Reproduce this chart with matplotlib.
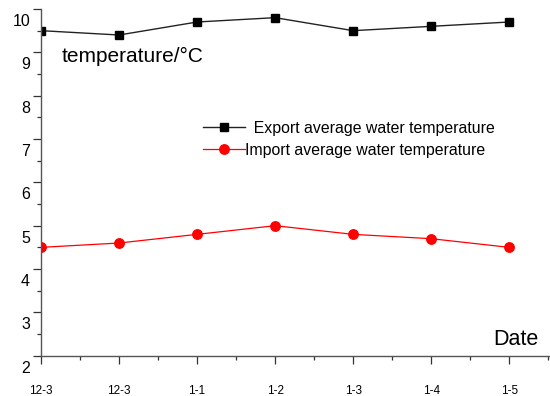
import matplotlib
matplotlib.use("Agg")
import matplotlib.pyplot as plt
from matplotlib.ticker import MultipleLocator, NullFormatter
from matplotlib.transforms import offset_copy, blended_transform_factory

plt.rcParams['font.family'] = ['Liberation Sans', 'DejaVu Sans']

dates = ["12-3", "12-3", "1-1", "1-2", "1-3", "1-4", "1-5"]
export_temp = [9.5, 9.4, 9.7, 9.8, 9.5, 9.6, 9.7]
import_temp = [4.5, 4.6, 4.8, 5.0, 4.8, 4.7, 4.5]
y_ticks = [2, 3, 4, 5, 6, 7, 8, 9, 10]

W, H = 550, 396
fig = plt.figure(figsize=(W / 100, H / 100), dpi=100)
ax = fig.add_axes([41 / W, 1 - 355.7 / H, 508 / W, 346.7 / H])

xs = list(range(len(dates)))
ax.plot(xs, export_temp, color='#222222', lw=1.0, marker='s', ms=6,
        mfc='black', mec='black', label='  Export average water temperature')
ax.plot(xs, import_temp, color='#ff0000', lw=0.9, marker='o', ms=6.8,
        mfc='#ff0000', mec='#ff0000', label='Import average water temperature')

ax.set_xlim(0, 6.51)
ax.set_ylim(2, 10)

for s in ['top', 'right']:
    ax.spines[s].set_visible(False)
for s in ['left', 'bottom']:
    ax.spines[s].set_color('#555555')
    ax.spines[s].set_linewidth(1.0)

ax.xaxis.set_major_locator(MultipleLocator(1))
ax.xaxis.set_minor_locator(MultipleLocator(0.5))
ax.yaxis.set_major_locator(MultipleLocator(1))
ax.yaxis.set_minor_locator(MultipleLocator(0.5))
ax.tick_params(which='major', direction='out', length=5.5, width=0.9, color='#333333')
ax.tick_params(which='minor', direction='out', length=3, width=0.9, color='#333333')
ax.set_xticks(xs)
ax.set_xticklabels(dates, fontsize=8.5)
ax.tick_params(axis='x', which='major', pad=15.5)
ax.yaxis.set_major_formatter(NullFormatter())

# y labels sit a little below their ticks
ytr = offset_copy(blended_transform_factory(ax.transAxes, ax.transData),
                  fig=fig, x=-11, y=-12.5, units='dots')
for v in y_ticks:
    ax.text(0, v, str(v), transform=ytr, ha='right', va='center', fontsize=11.5)

fig.text(62 / W, 1 - 61.5 / H, "temperature/°C", fontsize=15, ha='left', va='baseline')
fig.text(493 / W, 1 - 345 / H, "Date", fontsize=15.5, ha='left', va='baseline')

ax.legend(loc='upper left', bbox_to_anchor=((203 - 41) / 508, 1 - (121 - 9) / 346.7),
          frameon=False, fontsize=11.4, handlelength=2.64, handletextpad=0.0,
          borderpad=0, borderaxespad=0, labelspacing=0.42, numpoints=1)

fig.savefig("out.png", dpi=100)
